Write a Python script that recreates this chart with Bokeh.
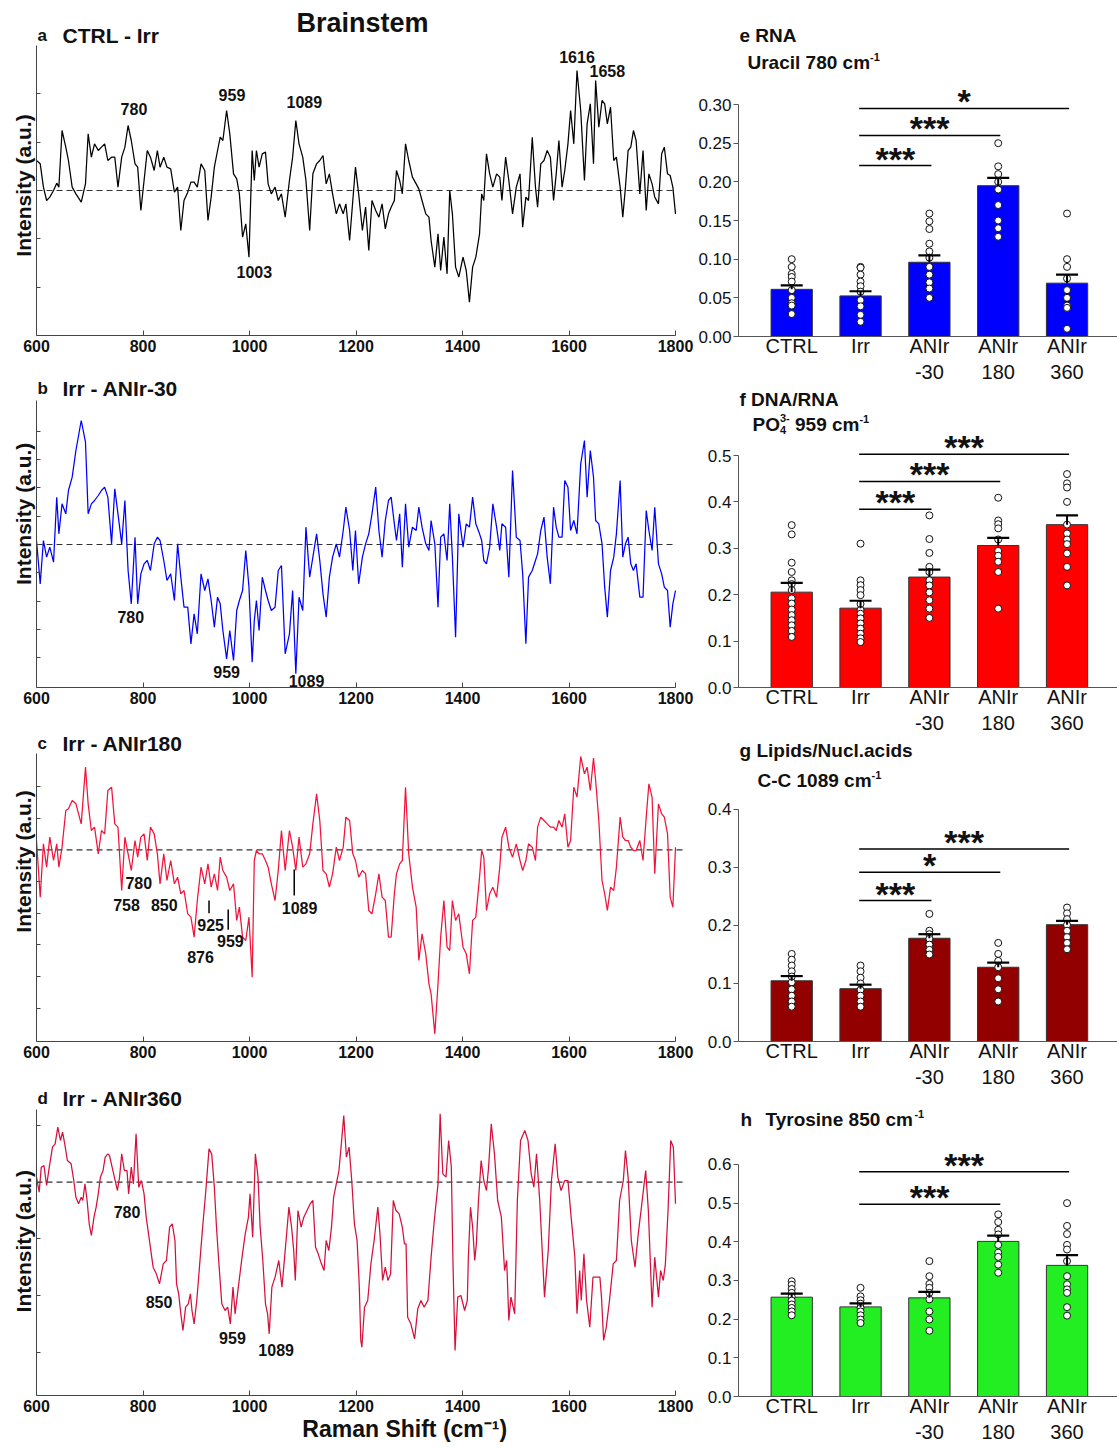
from bokeh.plotting import figure
from bokeh.models import Label, Range1d, FixedTicker, NumeralTickFormatter, CustomJSTickFormatter
from bokeh.layouts import row, column
from bokeh.embed import file_html
from bokeh.resources import INLINE

FONT = "Liberation Sans"
TXT = "#111111"
NB = "\u00a0"

# ---------------- spectra data (difference spectra, arbitrary units) ----------------
WN = [
    600, 607, 613, 619, 625, 632, 638, 642, 648, 655,
    660, 667, 674, 684, 692, 697, 703, 709, 716, 722,
    728, 734, 741, 747, 753, 760, 766, 772, 778, 785,
    790, 796, 802, 808, 814, 821, 827, 832, 839, 845,
    852, 859, 865, 871, 877, 884, 890, 896, 902, 909,
    916, 922, 928, 934, 940, 945, 950, 957, 963, 970,
    976, 981, 987, 993, 999, 1005, 1009, 1013, 1018, 1024,
    1030, 1035, 1041, 1048, 1054, 1060, 1067, 1075, 1081, 1087,
    1093, 1100, 1106, 1113, 1119, 1126, 1132, 1138, 1144, 1150,
    1156, 1163, 1169, 1176, 1181, 1188, 1194, 1199, 1205, 1212,
    1218, 1224, 1230, 1237, 1243, 1249, 1255, 1261, 1266, 1272,
    1276, 1282, 1287, 1293, 1299, 1306, 1313, 1318, 1324, 1331,
    1337, 1341, 1348, 1354, 1359, 1365, 1371, 1376, 1381, 1387,
    1393, 1401, 1407, 1413, 1419, 1425, 1432, 1436, 1440, 1445,
    1451, 1457, 1464, 1470, 1474, 1481, 1487, 1494, 1501, 1508,
    1513, 1519, 1524, 1531, 1537, 1541, 1547, 1553, 1559, 1565,
    1571, 1576, 1581, 1587, 1592, 1598, 1603, 1609, 1615, 1622,
    1629, 1634, 1640, 1646, 1650, 1656, 1662, 1667, 1672, 1678,
    1684, 1689, 1696, 1701, 1706, 1711, 1716, 1721, 1726, 1733,
    1739, 1745, 1750, 1756, 1761, 1768, 1774, 1779, 1785, 1790,
    1795, 1800]

DIFF_A = [
    0.90, 0.80, 0.10, -0.30, -0.20, 0.00, 0.22, 0.10, 1.80, 1.30,
    0.90, 0.10, -0.10, -0.35, 0.20, 1.70, 1.00, 1.40, 1.20, 1.30,
    1.40, 0.90, 1.00, 1.00, 0.10, 1.00, 1.30, 1.95, 1.50, 0.80,
    0.70, -0.60, 0.30, 1.20, 1.00, 0.60, 1.20, 0.70, 1.00, 0.70,
    0.65, -0.05, 0.10, -1.20, -0.30, -0.05, 0.25, 0.25, 0.10, 0.80,
    0.60, -0.90, -0.20, 0.70, 1.20, 1.60, 1.50, 2.40, 1.70, 0.50,
    0.35, -0.10, -1.40, -1.00, -2.00, 1.20, 0.30, 1.20, 0.70, 1.10,
    1.15, 0.20, -0.10, 0.10, -0.30, -0.10, -0.80, 0.30, 1.00, 2.10,
    1.40, 1.00, 0.30, -1.20, 0.50, 0.80, 0.90, 1.05, 0.20, 0.50,
    -0.10, -0.70, -0.40, -0.70, -0.40, -1.50, -0.30, 0.70, -0.10, -1.20,
    -0.50, -1.80, -0.30, -0.60, -0.80, -0.40, -1.15, -0.70, -0.50, -0.30,
    0.60, 0.30, -0.10, 1.40, 0.90, 0.40, 0.20, 0.05, -0.30, -0.70,
    -0.80, -1.50, -2.30, -1.30, -2.40, -1.40, -2.50, 0.00, -0.70, -2.30,
    -2.60, -2.00, -2.40, -3.35, -2.30, -2.00, -1.30, -0.10, -0.30, 1.10,
    0.50, 0.10, 0.50, 0.40, -0.30, 1.00, 0.30, -0.70, 0.10, 0.50,
    -1.10, -0.20, -0.30, 1.60, 0.10, -0.50, 0.80, 0.90, 1.20, 1.00,
    -0.30, 0.50, 1.50, 0.10, 0.60, 1.40, 2.40, 1.40, 3.60, 2.40,
    0.30, 2.00, 2.60, 0.80, 3.30, 1.90, 2.70, 2.60, 2.00, 2.50,
    0.90, 1.00, 0.10, -0.80, 0.10, 1.20, 1.30, 1.80, 1.50, -0.10,
    1.20, -0.60, 0.50, 0.20, -0.20, -0.40, 1.10, 1.30, 0.50, 0.45,
    0.10, -0.70]

DIFF_B = [
    0.12, -1.18, 0.12, -0.38, -0.08, -0.53, 1.42, 0.32, 1.22, 0.92,
    1.62, 2.02, 2.82, 3.72, 3.07, 0.92, 1.22, 1.32, 1.47, 1.62,
    1.72, 1.42, 0.02, 1.67, 0.92, 0.02, 1.32, -0.78, -1.78, 0.22,
    -1.78, -0.88, -0.58, -0.48, -0.78, 0.02, 0.22, 0.12, -0.48, -1.08,
    -0.88, -1.68, 0.02, -0.98, -1.88, -1.88, -2.98, -2.08, -2.68, -0.88,
    -1.38, -1.03, -1.68, -2.48, -1.58, -1.78, -2.58, -3.43, -2.58, -3.48,
    -1.98, -1.68, -1.38, -0.18, -1.28, -3.53, -2.28, -1.68, -2.58, -0.98,
    -1.38, -1.68, -1.98, -1.88, -0.78, -0.63, -3.28, -2.68, -1.38, -3.88,
    -1.58, -1.98, 0.52, -0.98, -0.38, 0.32, -0.48, -1.48, -2.18, -0.98,
    -0.38, 0.02, -0.38, 0.42, 1.12, 0.42, -0.78, 0.42, -1.18, -0.38,
    0.02, 0.32, 0.92, 1.72, 0.42, -0.38, 0.72, 1.32, 1.42, 0.62,
    0.12, 0.92, -0.68, 1.22, -0.08, 0.52, 0.42, 1.12, 0.52, 0.02,
    -0.18, 0.72, 0.02, -1.88, 0.22, 0.32, -0.48, 1.22, -0.38, -2.78,
    0.92, -0.08, 0.62, 0.52, 1.42, 0.62, 0.32, 0.12, -0.48, -0.58,
    -0.08, 1.22, 0.52, -0.18, 0.62, 0.52, -0.98, 2.22, 0.22, 0.12,
    -0.88, -2.98, -0.98, -0.78, -0.48, -0.28, 0.42, 0.82, -0.38, -1.18,
    1.12, 0.52, 0.22, 0.22, 1.92, 1.72, 0.42, 0.72, 0.32, 2.42,
    3.12, 1.42, 2.82, 2.02, 0.72, 0.62, 0.02, -1.28, -2.18, -0.78,
    -0.38, 0.32, 1.92, -0.38, 0.02, 0.22, -0.58, -0.78, -0.58, -1.58,
    -1.58, 1.02, 0.42, -0.18, 1.12, -0.58, -0.88, -1.28, -1.38, -2.48,
    -1.78, -1.38]

DIFF_C = [
    0.28, -1.42, 0.18, -0.52, 0.38, -0.32, 0.18, -0.52, 0.08, 1.18,
    1.23, 1.48, 1.38, 0.78, 2.48, 1.38, 0.58, 0.68, -0.12, 0.58,
    0.48, 1.78, 1.88, 0.78, 0.68, -1.22, 0.38, -0.12, -0.62, 0.28,
    -0.22, 0.38, 0.48, -0.32, 0.68, 0.48, -0.12, -1.02, -0.12, -0.92,
    -0.32, -1.02, -0.82, -1.32, -1.22, -1.92, -2.02, -2.62, -1.52, -0.52,
    -1.02, -0.42, -1.12, -0.72, -1.22, -0.22, -0.62, -0.82, -1.22, -1.02,
    -2.12, -1.72, -2.62, -2.72, -2.02, -3.82, -0.32, -0.02, -0.12, -0.12,
    -0.32, -0.52, -1.02, -1.52, -0.62, 0.58, -0.62, 0.58, 0.08, -0.62,
    0.38, -0.52, -0.42, -0.12, 0.78, 1.68, 0.88, -0.62, -0.72, -1.12,
    -0.72, 0.08, -0.32, 0.08, 0.98, 0.88, -0.12, -0.32, -0.82, -0.62,
    -0.72, -1.82, -1.92, -1.32, -0.72, -1.42, -1.52, -2.62, -2.62, -1.32,
    -0.72, -0.42, -0.32, 1.88, -0.12, -1.12, -1.72, -3.32, -2.52, -3.12,
    -4.02, -4.32, -5.52, -4.02, -2.62, -1.52, -2.92, -3.02, -1.52, -2.12,
    -1.92, -2.92, -3.12, -3.72, -2.12, -2.02, -0.82, -0.02, -0.22, -1.82,
    -1.32, -1.12, -1.42, -0.52, 0.38, 0.68, 0.08, -0.22, 0.18, -0.32,
    -0.62, -0.32, 0.18, 0.08, -0.32, 0.68, 0.98, 0.88, 0.78, 0.68,
    0.68, 0.58, 0.88, 0.68, 1.08, 0.08, 0.28, 1.88, 1.58, 2.80,
    2.28, 2.48, 1.78, 2.75, 2.08, 0.88, -0.92, -1.32, -1.82, -1.12,
    -1.22, -0.52, 0.98, 0.38, 0.28, 0.28, 0.08, -0.02, -0.02, 0.28,
    -0.32, 0.98, 1.98, 1.58, -0.72, 1.38, 1.08, 0.98, 0.48, -1.42,
    -1.72, 0.08]

SPEC_D = [
    (600, 0.15), (605, -0.30), (609, 0.45), (614, 0.50), (619, -0.10), (624, 0.45), (630, 1.05), (635, 1.15), (640, 1.65), (645, 1.25),
    (649, 1.50), (653, 1.15), (658, 0.65), (665, 0.55), (670, 0.05), (674, -0.45), (679, -0.65), (684, -0.45), (687, -0.55), (691, -0.05),
    (695, -0.55), (699, -1.25), (703, -1.60), (708, -1.05), (712, -0.75), (716, -0.35), (720, 0.15), (725, 0.35), (729, 0.75), (734, 0.85),
    (737, 0.80), (742, 0.45), (747, 0.10), (752, -0.25), (756, 0.15), (760, 0.85), (765, 0.35), (770, 0.35), (773, -0.35), (778, 0.45),
    (782, -0.05), (787, 1.45), (792, -0.15), (797, 0.05), (802, -0.35), (806, -1.05), (813, -1.85), (819, -2.55), (825, -2.75), (831, -3.05),
    (838, -2.45), (844, -2.35), (850, -1.35), (855, -1.25), (860, -1.75), (863, -3.05), (867, -3.35), (871, -3.95), (875, -4.45), (880, -3.75),
    (885, -3.65), (889, -3.35), (892, -3.85), (896, -4.25), (901, -3.55), (906, -2.55), (912, -1.35), (918, -0.25), (924, 1.00), (929, 0.85),
    (934, -0.15), (938, -1.35), (943, -2.55), (948, -3.65), (954, -3.85), (959, -3.75), (964, -4.25), (969, -3.15), (973, -3.95), (979, -3.15),
    (986, -2.25), (992, -1.55), (998, -1.05), (1001, -0.35), (1006, -1.65), (1011, 0.85), (1016, 0.15), (1020, -1.35), (1025, -2.35), (1030, -3.65),
    (1034, -3.95), (1037, -4.55), (1042, -3.15), (1048, -2.85), (1055, -2.35), (1061, -3.15), (1067, -2.05), (1074, -0.75), (1079, -1.35), (1083, -2.05),
    (1086, -2.95), (1091, -0.85), (1097, -1.35), (1102, -1.05), (1108, -0.85), (1114, -0.65), (1119, -0.55), (1124, -1.95), (1129, -2.15), (1135, -2.45),
    (1140, -2.65), (1144, -1.75), (1149, -2.05), (1154, -1.35), (1158, -0.45), (1163, -0.05), (1168, 0.35), (1173, 1.25), (1177, 2.00), (1182, 0.75),
    (1187, 1.05), (1192, 0.05), (1197, -1.25), (1202, -1.75), (1206, -3.05), (1209, -4.75), (1211, -4.95), (1216, -3.75), (1222, -3.55), (1228, -2.45),
    (1234, -1.75), (1241, -0.75), (1245, -1.55), (1250, -2.95), (1255, -2.55), (1260, -2.95), (1265, -2.75), (1270, -0.55), (1275, -0.85), (1281, -0.95),
    (1287, -1.35), (1291, -1.85), (1294, -1.85), (1297, -4.05), (1303, -4.25), (1310, -4.70), (1316, -3.80), (1322, -3.55), (1328, -3.75), (1335, -3.55),
    (1341, -2.25), (1347, -1.15), (1354, -0.05), (1358, 2.05), (1363, 0.25), (1369, 0.15), (1374, 1.25), (1379, 0.45), (1382, -2.35), (1386, -5.05),
    (1391, -3.45), (1397, -3.40), (1404, -3.85), (1409, -3.55), (1411, -2.25), (1415, -0.75), (1419, -1.35), (1423, -2.35), (1426, -1.85), (1430, -0.55),
    (1435, 0.65), (1440, 0.05), (1445, -0.25), (1449, 0.45), (1454, 1.75), (1460, 0.85), (1466, -0.55), (1473, -1.05), (1479, -2.65), (1483, -2.35),
    (1487, -4.15), (1491, -3.45), (1498, -3.95), (1503, -0.55), (1509, 1.25), (1517, 1.55), (1523, 1.25), (1529, 0.25), (1534, -0.15), (1539, 0.85),
    (1545, -0.55), (1554, -3.45), (1561, -2.05), (1567, 0.05), (1574, 1.15), (1579, 0.15), (1585, -0.25), (1592, 0.05), (1598, 0.05), (1604, -1.05),
    (1611, -2.25), (1615, -3.95), (1620, -2.65), (1623, -3.55), (1628, -2.15), (1633, -3.55), (1639, -4.35), (1645, -2.85), (1652, -2.85), (1658, -2.85),
    (1661, -3.45), (1665, -4.75), (1670, -4.35), (1676, -3.55), (1683, -2.45), (1689, -2.35), (1695, -0.55), (1702, 0.05), (1706, 0.95), (1711, 0.15),
    (1717, -1.75), (1724, -2.55), (1730, -1.55), (1736, -0.75), (1744, 0.35), (1749, -0.85), (1756, -3.75), (1761, -2.25), (1768, -3.45), (1772, -2.65),
    (1777, -2.95), (1781, -2.45), (1786, -0.85), (1791, 1.25), (1796, 1.05), (1800, -0.65)]

XTICKS = [600, 800, 1000, 1200, 1400, 1600, 1800]

PEAKS_A = [("780", 783, 2.46), ("959", 967, 2.87), ("1089", 1103, 2.65),
           ("1003", 1009, -2.45), ("1616", 1615, 4.02), ("1658", 1672, 3.58)]
PEAKS_B = [("780", 777, -2.18), ("959", 957, -3.83), ("1089", 1107, -4.10)]
PEAKS_C = [("780", 792, -1.00), ("758", 769, -1.64), ("850", 840, -1.64), ("925", 927, -2.24),
           ("959", 964, -2.72), ("876", 908, -3.20), ("1089", 1094, -1.74)]
MARKS_C = [(924, -1.52, -1.90), (960, -1.79, -2.40), (1084, -0.59, -1.37)]
PEAKS_D = [("780", 770, -0.90), ("850", 830, -3.58), ("959", 968, -4.67), ("1089", 1050, -5.03)]

# ---------------- bar chart data ----------------
CAT1 = ["CTRL", "Irr", "ANIr", "ANIr", "ANIr"]
CAT2 = ["", "", "-30", "180", "360"]

E_MEAN = [0.061, 0.0525, 0.096, 0.195, 0.069]
E_SEM = [0.066, 0.0585, 0.105, 0.205, 0.080]
E_DOTS = [[0.100, 0.090, 0.081, 0.077, 0.071, 0.060, 0.050, 0.043, 0.040, 0.029],
          [0.090, 0.089, 0.080, 0.071, 0.065, 0.058, 0.047, 0.039, 0.028, 0.019],
          [0.159, 0.149, 0.139, 0.120, 0.110, 0.102, 0.090, 0.080, 0.070, 0.062, 0.050],
          [0.250, 0.220, 0.210, 0.200, 0.190, 0.170, 0.150, 0.140, 0.129],
          [0.159, 0.100, 0.090, 0.075, 0.060, 0.050, 0.040, 0.037, 0.010]]
E_SIG = [(2, 0.221, "***"), (3, 0.260, "***"), (4, 0.295, "*")]
E_TICKS = [0.0, 0.05, 0.10, 0.15, 0.20, 0.25, 0.30]

F_MEAN = [0.2055, 0.171, 0.238, 0.306, 0.351]
F_SEM = [0.2256, 0.187, 0.254, 0.3226, 0.371]
F_DOTS = [[0.350, 0.330, 0.269, 0.249, 0.231, 0.223, 0.210, 0.192, 0.181, 0.168, 0.156, 0.145, 0.134, 0.122, 0.109],
          [0.310, 0.231, 0.2205, 0.210, 0.199, 0.180, 0.167, 0.159, 0.149, 0.138, 0.127, 0.116, 0.106, 0.098],
          [0.371, 0.320, 0.290, 0.260, 0.249, 0.231, 0.220, 0.205, 0.188, 0.170, 0.150],
          [0.409, 0.360, 0.352, 0.343, 0.319, 0.2945, 0.284, 0.271, 0.249, 0.170],
          [0.460, 0.440, 0.431, 0.400, 0.351, 0.332, 0.319, 0.309, 0.289, 0.260, 0.220]]
F_SIG = [(2, 0.384, "***"), (3, 0.444, "***"), (4, 0.503, "***")]
F_TICKS = [0.0, 0.1, 0.2, 0.3, 0.4, 0.5]

G_MEAN = [0.1047, 0.091, 0.178, 0.128, 0.2014]
G_SEM = [0.1128, 0.098, 0.185, 0.136, 0.208]
G_DOTS = [[0.151, 0.141, 0.131, 0.121, 0.112, 0.102, 0.090, 0.079, 0.069, 0.060],
          [0.131, 0.121, 0.110, 0.100, 0.089, 0.079, 0.069, 0.060],
          [0.220, 0.191, 0.185, 0.177, 0.167, 0.158, 0.150],
          [0.170, 0.151, 0.139, 0.128, 0.109, 0.090, 0.069],
          [0.231, 0.221, 0.211, 0.201, 0.191, 0.180, 0.170, 0.159]]
G_SIG = [(2, 0.243, "***"), (3, 0.292, "*"), (4, 0.332, "***")]
G_TICKS = [0.0, 0.1, 0.2, 0.3, 0.4]

H_MEAN = [0.2568, 0.2317, 0.255, 0.401, 0.339]
H_SEM = [0.266, 0.241, 0.2706, 0.416, 0.3657]
H_DOTS = [[0.298, 0.289, 0.278, 0.268, 0.258, 0.248, 0.238, 0.229, 0.220, 0.210],
          [0.281, 0.259, 0.249, 0.240, 0.229, 0.220, 0.210, 0.199, 0.190],
          [0.350, 0.311, 0.291, 0.281, 0.268, 0.251, 0.220, 0.199, 0.170],
          [0.471, 0.451, 0.431, 0.419, 0.392, 0.372, 0.361, 0.341, 0.320],
          [0.500, 0.441, 0.420, 0.392, 0.380, 0.350, 0.311, 0.290, 0.277, 0.268, 0.231, 0.209]]
H_SIG = [(3, 0.497, "***"), (4, 0.581, "***")]
H_TICKS = [0.0, 0.1, 0.2, 0.3, 0.4, 0.5, 0.6]

# ---------------- helpers ----------------
BOLD_W = {' ': 278, NB: 278, '-': 333, '(': 333, ')': 333, '/': 278, '.': 278,
          'A': 722, 'C': 722, 'D': 722, 'I': 278, 'L': 611, 'N': 722, 'O': 778, 'P': 667,
          'R': 722, 'S': 667, 'T': 611, 'U': 722,
          'a': 556, 'c': 556, 'd': 611, 'e': 556, 'f': 333, 'g': 611, 'h': 611, 'i': 278,
          'l': 278, 'm': 889, 'n': 611, 'o': 611, 'p': 611, 'r': 389, 's': 556, 't': 333,
          'u': 611, 'y': 556}


def tw(s, size):
    return sum(BOLD_W.get(ch, 556) for ch in s) * size / 1000.0


def add_label(p, text, x, y, size, bold=True, align="left", xu="screen", yu="screen"):
    p.add_layout(Label(x=x, y=y, x_units=xu, y_units=yu, text=text, text_font=FONT,
                       text_font_size=f"{size}px", text_font_style="bold" if bold else "normal",
                       text_align=align, text_baseline="middle", text_color=TXT))


def add_runs(p, x0, y, runs):
    x = x0
    for text, size, dy, adv in runs:
        add_label(p, text, x, y + dy, size)
        if adv:
            x += tw(text, size)


def spectrum(x, y, color, yr, bounds, yticks, height, bottom, dash_end, letter, title, title_y,
             peaks, ylabel):
    # frame spans from the figure top to the x axis; the y axis line is limited by bounds
    p = figure(width=695, height=height, x_range=Range1d(600, 1815), y_range=Range1d(yr[0], yr[1]),
               output_backend="svg", toolbar_location=None,
               min_border_left=36, min_border_right=12, min_border_top=0, min_border_bottom=bottom)
    p.xgrid.visible = False
    p.ygrid.visible = False
    p.outline_line_color = None
    p.segment(x0=[600], y0=[0], x1=[dash_end], y1=[0], line_color="#333333",
              line_dash="6 4", line_width=1.1)
    p.line(x, y, line_color=color, line_width=1.25)

    xa = p.xaxis[0]
    xa.ticker = FixedTicker(ticks=XTICKS)
    xa.bounds = (600, 1800)
    xa.axis_line_color = "#444444"
    xa.major_tick_line_color = "#444444"
    xa.major_tick_in = 5
    xa.major_tick_out = 0
    xa.minor_tick_line_color = None
    xa.major_label_text_font = FONT
    xa.major_label_text_font_style = "bold"
    xa.major_label_text_font_size = "16px"
    xa.major_label_text_color = TXT
    xa.major_label_standoff = 4

    ya = p.yaxis[0]
    ya.ticker = FixedTicker(ticks=yticks)
    ya.bounds = bounds
    ya.formatter = CustomJSTickFormatter(code="return ''")
    ya.axis_line_color = "#444444"
    ya.major_tick_line_color = "#444444"
    ya.major_tick_in = 4
    ya.major_tick_out = 0
    ya.minor_tick_line_color = None
    ya.major_label_standoff = 0
    ya.axis_label = ylabel
    ya.axis_label_text_font = FONT
    ya.axis_label_text_font_style = "bold"
    ya.axis_label_text_font_size = "21px"
    ya.axis_label_text_color = TXT
    ya.axis_label_standoff = 2

    add_label(p, letter, 1, title_y, 17)
    add_label(p, title, 26, title_y, 21)
    for t, px, py in peaks:
        add_label(p, t, px, py, 16, align="center", xu="data", yu="data")
    return p


def bar_panel(mean, sem, dots, sig, ticks, fmt, color, height, bottom, ytop):
    p = figure(width=422, height=height, x_range=Range1d(-0.773, 4.733), y_range=Range1d(0, ytop),
               output_backend="svg", toolbar_location=None,
               min_border_left=41, min_border_right=0, min_border_top=0, min_border_bottom=bottom)
    p.xgrid.visible = False
    p.ygrid.visible = False
    p.outline_line_color = None
    xs = list(range(len(mean)))
    p.vbar(x=xs, top=mean, bottom=0, width=0.6, fill_color=color, line_color="#333333", line_width=1)
    dx, dy = [], []
    for i, vals in enumerate(dots):
        dx += [i] * len(vals)
        dy += vals
    p.scatter(x=dx, y=dy, marker="circle", size=7, fill_color="white", line_color="#111111", line_width=1)
    p.segment(x0=xs, y0=mean, x1=xs, y1=sem, line_color="black", line_width=2)
    p.segment(x0=[i - 0.16 for i in xs], y0=sem, x1=[i + 0.16 for i in xs], y1=sem,
              line_color="black", line_width=2.2)

    frame_h = height - bottom
    ppu = frame_h / ytop
    for j, h, stars in sig:
        x0, x1 = 0.98, j + 0.03
        p.segment(x0=[x0], y0=[h], x1=[x1], y1=[h], line_color="black", line_width=1.5)
        add_label(p, stars, (x0 + x1) / 2, h + 7 / ppu, 34, align="center", xu="data", yu="data")

    xa = p.xaxis[0]
    xa.ticker = FixedTicker(ticks=xs)
    xa.major_label_overrides = {i: (CAT1[i] + ("\n" + CAT2[i] if CAT2[i] else "")) for i in xs}
    xa.axis_line_color = "#555555"
    xa.major_tick_line_color = None
    xa.minor_tick_line_color = None
    xa.major_tick_in = 0
    xa.major_tick_out = 0
    xa.major_label_standoff = -2
    xa.major_label_text_font = FONT
    xa.major_label_text_font_size = "20px"
    xa.major_label_text_color = TXT

    ya = p.yaxis[0]
    ya.ticker = FixedTicker(ticks=ticks)
    ya.formatter = NumeralTickFormatter(format=fmt)
    ya.bounds = (0, ticks[-1])
    ya.axis_line_color = "#555555"
    ya.major_tick_line_color = "#555555"
    ya.major_tick_out = 5
    ya.major_tick_in = 0
    ya.minor_tick_line_color = None
    ya.major_label_text_font = FONT
    ya.major_label_text_font_size = "17px"
    ya.major_label_text_color = TXT
    ya.major_label_standoff = 2
    return p


# ---------------- left column: spectra ----------------
pa = spectrum(WN, DIFF_A, "#000000", (-4.35, 5.70), (-4.35, 4.35), [-2.9, -1.45, 0, 1.45, 2.9],
              363, 28, 1800, "a", "CTRL - Irr", 300, PEAKS_A, "Intensity (a.u.)" + NB * 6)
add_label(pa, "Brainstem", 326, 313, 27, align="center")

pb = spectrum(WN, DIFF_B, "#0000FF", (-4.29, 5.43), (-4.29, 4.32),
              [-3.4, -2.55, -1.7, -0.85, 0, 0.85, 1.7, 2.55, 3.4],
              353, 29, 1800, "b", "Irr - ANIr-30", 299, PEAKS_B, NB * 4 + "Intensity (a.u.)")

pc = spectrum(WN, DIFF_C, "#F0143C", (-5.75, 4.00), (-5.75, 2.89),
              [-4.75, -3.8, -2.85, -1.9, -0.95, 0, 0.95, 1.9],
              353, 28, 1815, "c", "Irr - ANIr180", 298, PEAKS_C, NB * 6 + "Intensity (a.u.)")
pc.segment(x0=[m[0] for m in MARKS_C], y0=[m[1] for m in MARKS_C],
           x1=[m[0] for m in MARKS_C], y1=[m[2] for m in MARKS_C], line_color="black", line_width=1.5)

WN_D = [d[0] for d in SPEC_D]
INT_D = [d[1] for d in SPEC_D]
pd_ = spectrum(WN_D, INT_D, "#D4103C", (-6.40, 3.38), (-6.40, 2.18), [-5.1, -3.4, -1.7, 0, 1.7],
               378, 52, 1815, "d", "Irr - ANIr360", 297, PEAKS_D, "Intensity (a.u.)" + NB * 3)
xd = pd_.xaxis[0]
xd.axis_label = NB * 14 + "Raman Shift (cm\u207b\u00b9)"
xd.axis_label_text_font = FONT
xd.axis_label_text_font_style = "bold"
xd.axis_label_text_font_size = "23px"
xd.axis_label_text_color = TXT
xd.axis_label_standoff = 1

# ---------------- right column: bar charts ----------------
pe = bar_panel(E_MEAN, E_SEM, E_DOTS, E_SIG, E_TICKS, "0.00", "#0000FF", 387, 51, 0.4345)
add_label(pe, "e RNA", 1, 301, 19)
add_runs(pe, 9, 274, [("Uracil 780 cm", 19, 0, True), ("-1", 11, 6, True)])

pf = bar_panel(F_MEAN, F_SEM, F_DOTS, F_SIG, F_TICKS, "0.0", "#FF0000", 351, 51, 0.6466)
add_label(pf, "f DNA/RNA", 1, 288, 19)
add_runs(pf, 14, 263, [("PO", 19, 0, True), ("4", 11, -5, False), ("3-", 11, 7, True),
                       (NB + "959 cm", 19, 0, True), ("-1", 11, 6, True)])

pg = bar_panel(G_MEAN, G_SEM, G_DOTS, G_SIG, G_TICKS, "0.0", "#930000", 354, 51, 0.5224)
add_label(pg, "g Lipids/Nucl.acids", 1, 291, 19)
add_runs(pg, 19, 261, [("C-C 1089 cm", 19, 0, True), ("-1", 11, 6, True)])

ph = bar_panel(H_MEAN, H_SEM, H_DOTS, H_SIG, H_TICKS, "0.0", "#22EE22", 355, 51, 0.786)
add_label(ph, "h", 2, 277, 19)
add_runs(ph, 27, 277, [("Tyrosine 850 cm", 19, 0, True), ("-1", 11, 6, True)])

layout = row(column(pa, pb, pc, pd_, spacing=0), column(pe, pf, pg, ph, spacing=0), spacing=0)

with open("out.html", "w") as f:
    f.write(file_html(layout, INLINE, title="Brainstem Raman"))
